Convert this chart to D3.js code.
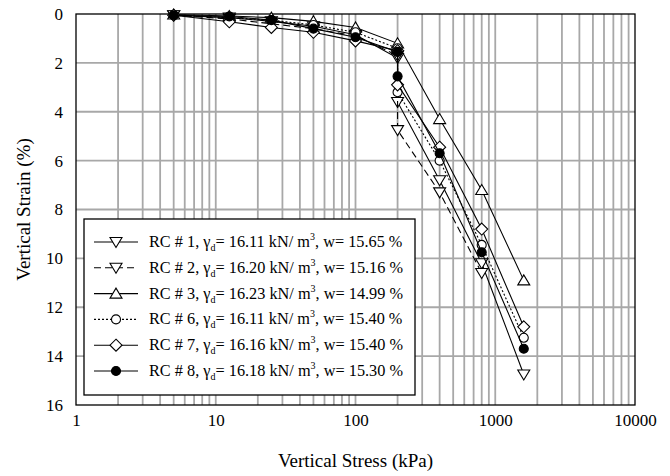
<!DOCTYPE html>
<html>
<head>
<meta charset="utf-8">
<script src="https://cdn.jsdelivr.net/npm/d3@7"></script>
<style>
  body { margin: 0; background: #fff; }
</style>
</head>
<body>
<script>
// stress steps (kPa) and vertical strain (%)
const stressRC1 = [5, 12.5, 25, 50, 100, 200, 200, 400, 800, 1600]
const strainRC1 = [0.05, 0.15, 0.3, 0.5, 0.85, 1.8, 3.6, 6.8, 10.2, 14.75]
const stressRC2 = [5, 12.5, 25, 50, 100, 200, 200, 400, 800]
const strainRC2 = [0.05, 0.2, 0.4, 0.6, 0.9, 1.7, 4.75, 7.3, 10.6]
const stressRC3 = [5, 12.5, 25, 50, 100, 200, 400, 800, 1600]
const strainRC3 = [0.02, 0.08, 0.15, 0.3, 0.55, 1.2, 4.3, 7.2, 10.9]
const stressRC6 = [5, 12.5, 25, 50, 100, 200, 200, 400, 800, 1600]
const strainRC6 = [0.05, 0.15, 0.25, 0.45, 0.75, 1.4, 3.2, 6.0, 9.45, 13.25]
const stressRC7 = [5, 12.5, 25, 50, 100, 200, 200, 400, 800, 1600]
const strainRC7 = [0.05, 0.32, 0.55, 0.75, 1.1, 1.5, 2.9, 5.45, 8.8, 12.8]
const stressRC8 = [5, 12.5, 25, 50, 100, 200, 200, 400, 800, 1600]
const strainRC8 = [0.05, 0.1, 0.25, 0.6, 0.95, 1.55, 2.55, 5.7, 9.75, 13.7]

const labelNames = ['RC # 1', 'RC # 2', 'RC # 3', 'RC # 6', 'RC # 7', 'RC # 8']
const gammaD = ['16.11', '16.20', '16.23', '16.11', '16.16', '16.18']
const waterW = ['15.65', '15.16', '14.99', '15.40', '15.40', '15.30']

const xTicks = [1, 10, 100, 1000, 10000]
const yTicks = [0, 2, 4, 6, 8, 10, 12, 14, 16]

const WIDTH = 670
const HEIGHT = 476
const M = { left: 76, right: 35, top: 14, bottom: 71 }
const SERIF = '"Liberation Serif"'

const series = [
  { x: stressRC1, y: strainRC1, marker: 'down', dash: null, fill: '#fff' },
  { x: stressRC2, y: strainRC2, marker: 'down', dash: '7,4', fill: '#fff' },
  { x: stressRC3, y: strainRC3, marker: 'up', dash: null, fill: '#fff' },
  { x: stressRC6, y: strainRC6, marker: 'circle', dash: '2,2', fill: '#fff' },
  { x: stressRC7, y: strainRC7, marker: 'diamond', dash: null, fill: '#fff' },
  { x: stressRC8, y: strainRC8, marker: 'circle', dash: null, fill: '#000' },
]

const svg = d3.select('body').append('svg')
  .attr('width', WIDTH)
  .attr('height', HEIGHT)

const x = d3.scaleLog()
  .domain([1, 10000])
  .range([M.left, WIDTH - M.right])

const y = d3.scaleLinear()
  .domain([0, 16])
  .range([M.top, HEIGHT - M.bottom])

// grid
const minor = []
for (let p = 0; p < 4; p++) {
  for (let k = 1; k < 10; k++) minor.push(k * Math.pow(10, p))
}
svg.append('g')
  .selectAll('line')
  .data(minor.slice(1))
  .enter()
  .append('line')
  .attr('x1', d => x(d))
  .attr('x2', d => x(d))
  .attr('y1', y(0))
  .attr('y2', y(16))
  .attr('stroke', '#a8a8a8')
  .attr('stroke-width', 1.8)

svg.append('g')
  .selectAll('line')
  .data(yTicks.slice(1, -1))
  .enter()
  .append('line')
  .attr('x1', x(1))
  .attr('x2', x(10000))
  .attr('y1', d => y(d))
  .attr('y2', d => y(d))
  .attr('stroke', '#a8a8a8')
  .attr('stroke-width', 1.8)

// axes
const xAxis = d3.axisBottom(x)
  .tickValues(xTicks)
  .tickFormat(d3.format('d'))
  .tickSize(0)
  .tickPadding(9)

const yAxis = d3.axisLeft(y)
  .tickValues(yTicks)
  .tickSize(0)
  .tickPadding(13)

const bottomAxis = svg.append('g')
  .attr('transform', `translate(0, ${y(16)})`)
  .call(xAxis)
const leftAxis = svg.append('g')
  .attr('transform', `translate(${x(1)}, 0)`)
  .call(yAxis)

;[bottomAxis, leftAxis].forEach(g => {
  g.select('.domain').remove()
  g.selectAll('text')
    .style('font-family', SERIF)
    .style('font-size', '17px')
    .attr('fill', '#000')
})

svg.append('rect')
  .attr('x', x(1))
  .attr('y', y(0))
  .attr('width', x(10000) - x(1))
  .attr('height', y(16) - y(0))
  .attr('fill', 'none')
  .attr('stroke', '#000')
  .attr('stroke-width', 1.3)

svg.append('text')
  .attr('x', (x(1) + x(10000)) / 2)
  .attr('y', 467)
  .attr('text-anchor', 'middle')
  .style('font-family', SERIF)
  .style('font-size', '19px')
  .text('Vertical Stress (kPa)')

svg.append('text')
  .attr('transform', `translate(30, ${(y(0) + y(16)) / 2}) rotate(-90)`)
  .attr('text-anchor', 'middle')
  .style('font-family', SERIF)
  .style('font-size', '19px')
  .text('Vertical Strain (%)')

// markers
const markerPath = {
  down: 'M0,5.5L-6,-4.5L6,-4.5Z',
  up: 'M0,-5.5L-6,4.5L6,4.5Z',
  diamond: 'M0,-6L6,0L0,6L-6,0Z',
  circle: d3.symbol(d3.symbolCircle, 64)(),
}

const line = d3.line()
  .x(d => x(d[0]))
  .y(d => y(d[1]))

series.forEach(s => {
  const pts = s.x.map((v, i) => [v, s.y[i]])
  svg.append('path')
    .datum(pts)
    .attr('d', line)
    .attr('fill', 'none')
    .attr('stroke', '#000')
    .attr('stroke-width', 1.1)
    .attr('stroke-dasharray', s.dash)
  svg.append('g')
    .selectAll('path')
    .data(pts)
    .enter()
    .append('path')
    .attr('d', markerPath[s.marker])
    .attr('transform', d => `translate(${x(d[0])}, ${y(d[1])})`)
    .attr('fill', s.fill)
    .attr('stroke', '#000')
    .attr('stroke-width', 1.1)
})

// legend
const legend = svg.append('g')
legend.append('rect')
  .attr('x', 84)
  .attr('y', 219)
  .attr('width', 331)
  .attr('height', 176)
  .attr('fill', '#fff')
  .attr('stroke', '#000')
  .attr('stroke-width', 1.3)

series.forEach((s, i) => {
  const ly = 242 + i * 25.8
  legend.append('line')
    .attr('x1', 94)
    .attr('x2', 138)
    .attr('y1', ly)
    .attr('y2', ly)
    .attr('stroke', '#000')
    .attr('stroke-width', 1.1)
    .attr('stroke-dasharray', s.dash)
  legend.append('path')
    .attr('d', markerPath[s.marker])
    .attr('transform', `translate(116, ${ly})`)
    .attr('fill', s.fill)
    .attr('stroke', '#000')
    .attr('stroke-width', 1.1)
  const t = legend.append('text')
    .attr('x', 149)
    .attr('y', ly + 5)
    .style('font-family', SERIF)
    .style('font-size', '16.3px')
  t.append('tspan').text(`${labelNames[i]}, γ`)
  t.append('tspan').attr('dy', 4).style('font-size', '10px').text('d')
  t.append('tspan').attr('dy', -4).text(`= ${gammaD[i]} kN/ m`)
  t.append('tspan').attr('dy', -7).style('font-size', '10px').text('3')
  t.append('tspan').attr('dy', 7).text(`, w= ${waterW[i]} %`)
})
</script>
</body>
</html>
